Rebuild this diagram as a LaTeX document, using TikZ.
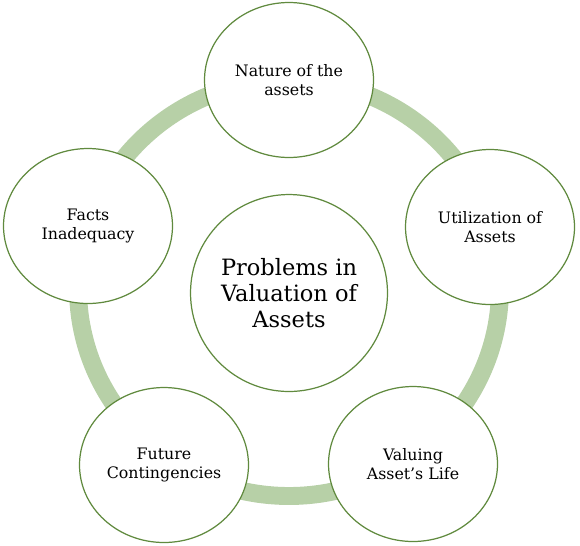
\documentclass[tikz,border=0pt]{standalone}
\usepackage{fontspec}
\setmainfont{DejaVu Serif}
\usetikzlibrary{shapes.geometric}
\definecolor{ringgreen}{RGB}{183,208,167}
\definecolor{edgegreen}{RGB}{96,138,62}

\begin{document}
\begin{tikzpicture}[x=0.02cm, y=-0.02cm,
      topic/.style={draw=edgegreen, line width=0.7pt, fill=white, ellipse,
                    inner sep=0pt, minimum width=3.38cm, minimum height=3.1cm,
                    align=center, font=\fontsize{9}{10.4}\selectfont},
      hub/.style={draw=edgegreen, line width=0.7pt, fill=white, circle,
                  minimum size=3.94cm, align=center,
                  font=\fontsize{12.8}{15}\selectfont},
      ring/.style={draw=ringgreen, line width=10.2pt}
    ]
      \useasboundingbox (0,0) rectangle (580,545);

      % ring behind the circles
      \draw[ring] (289,288) ellipse (211 and 208);

      \node[hub] (centre) at (289,293) {Problems in\\Valuation of\\Assets};

      \node[topic] (nature) at (289,80) {Nature of the\\assets};
      \node[topic] (util) at (490,227) {Utilization of\\Assets};
      \node[topic] (life) at (413,464) {Valuing\\Asset’s Life};
      \node[topic] (future) at (164,465) {Future\\Contingencies};
      \node[topic] (facts) at (88,226) {Facts\\Inadequacy};
    \end{tikzpicture}
\end{document}
